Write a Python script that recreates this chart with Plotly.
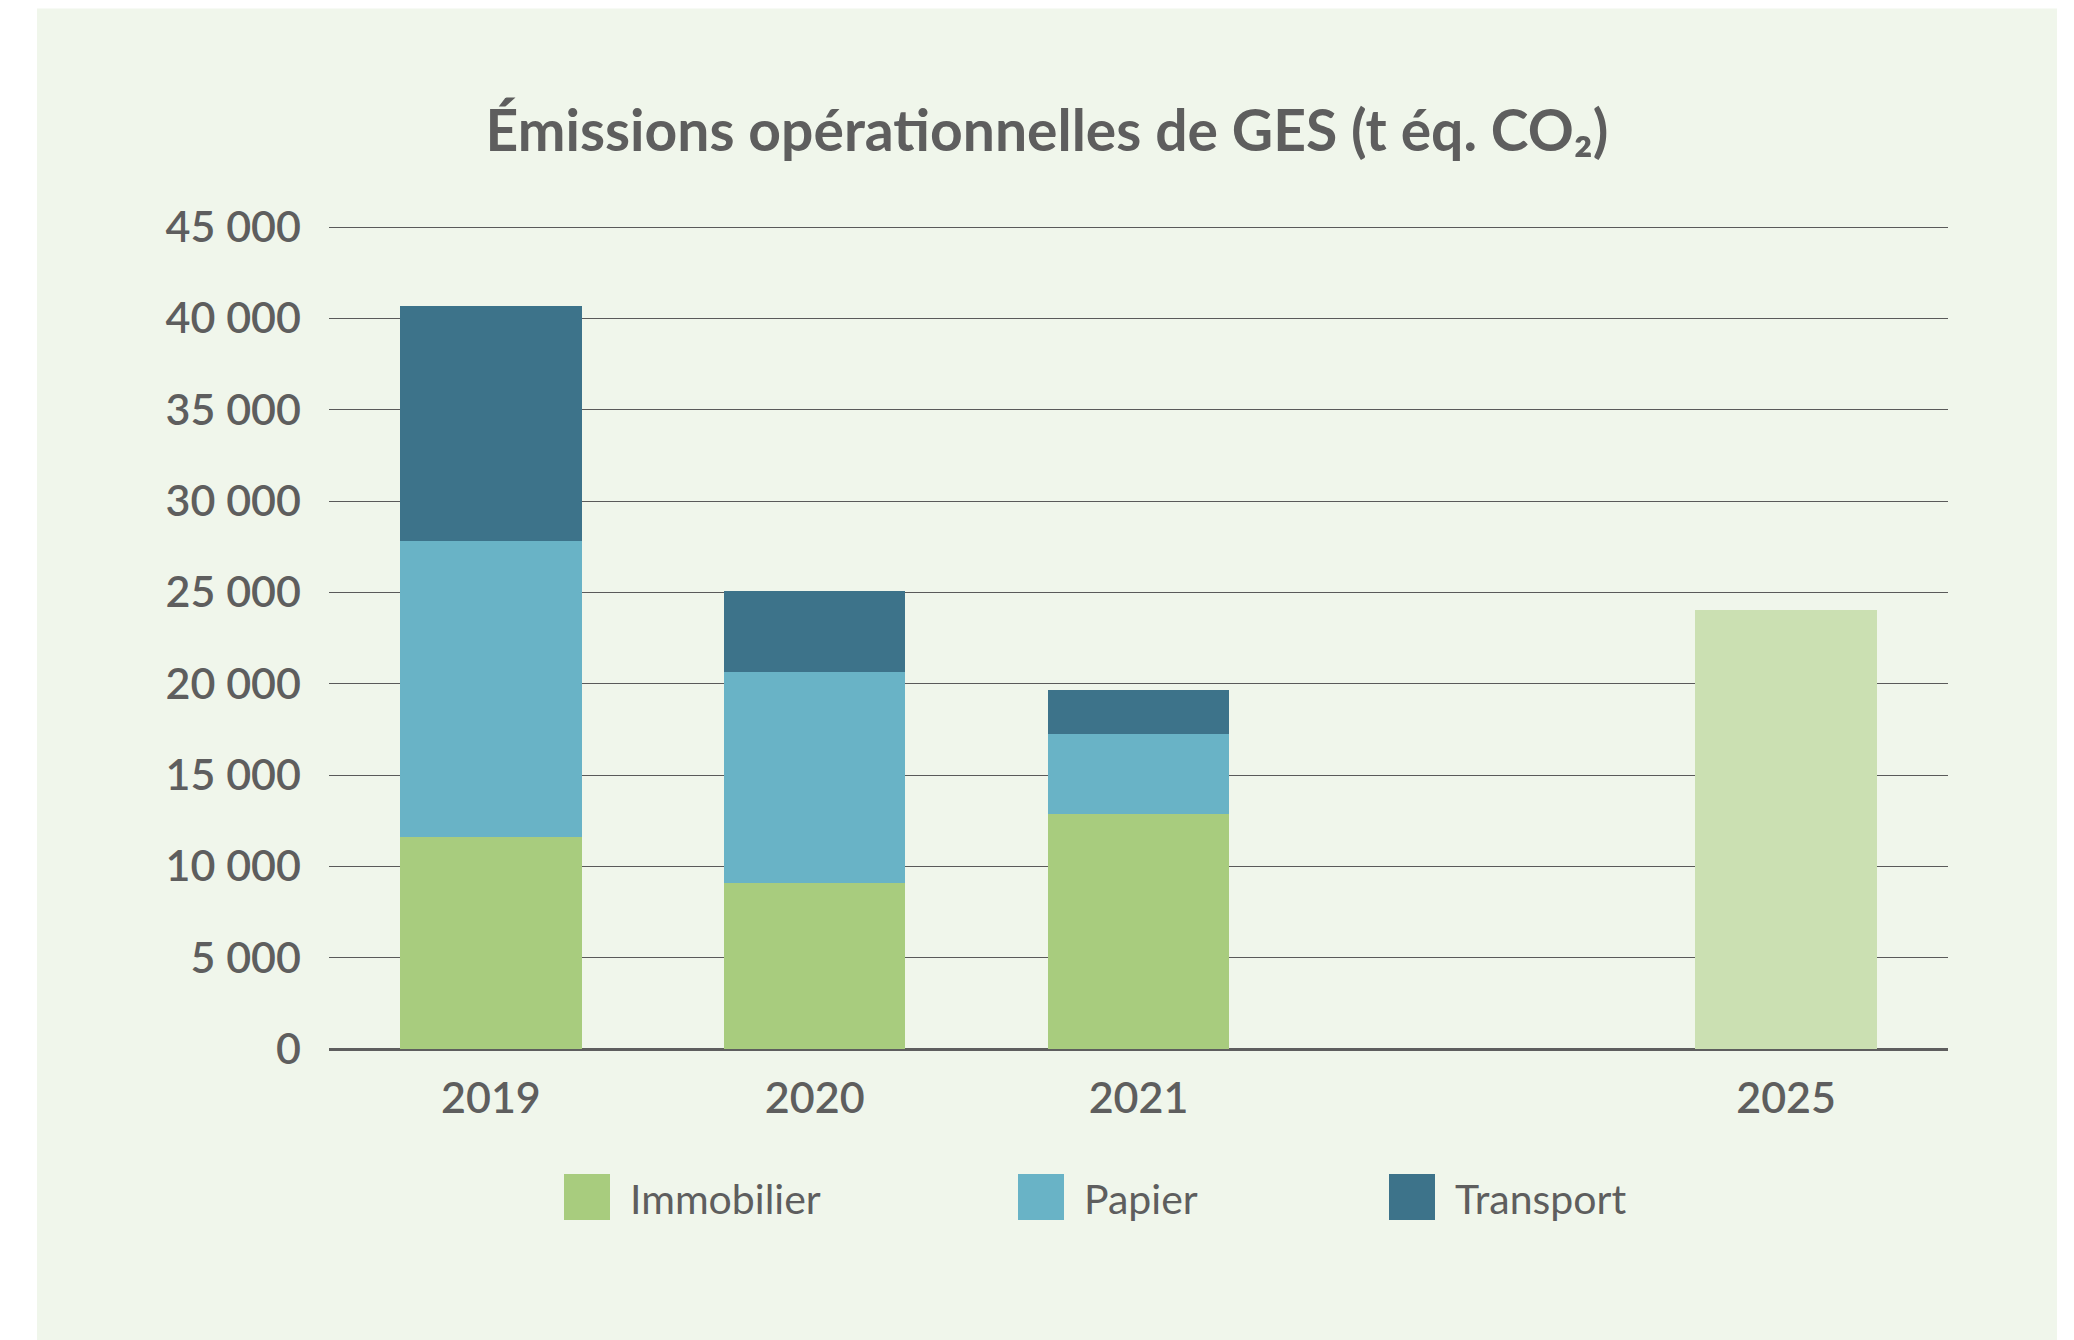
import plotly.graph_objects as go

# categories (blank slot between 2021 and the 2025 target)
years = ["2019", "2020", "2021", " ", "2025"]

# t CO2e
immobilier = [11630, 9100, 12860, None, None]
papier = [16210, 11550, 4390, None, None]
transport = [12860, 4420, 2420, None, None]
cible_2025 = [None, None, None, None, 24050]

series_names = ["Immobilier", "Papier", "Transport"]
colors = ["#A8CC7E", "#69B3C6", "#3D738A"]
target_color = "#CBE0B2"
text_color = "#5E5E5E"
font_family = "Lato, 'Open Sans', sans-serif"

W, H = 2074, 1340
OFF = 8  # the page body adds an 8px margin, so pull everything back by that much
y_max = 45060  # a hair above 45 000 so the top gridline is drawn

# plot area in screen pixels
L, R, B = 329, 1948, 1049
T = B - 821.5 * y_max / 45000


def px_x(x):
    return (x - L) / (R - L)


def px_y(y):
    return (B - y) / (B - T)


fig = go.Figure()
for name, vals, col in zip(series_names, [immobilier, papier, transport], colors):
    fig.add_trace(go.Bar(x=years, y=vals, name=name, marker=dict(color=col, line=dict(width=0))))
fig.add_trace(go.Bar(x=years, y=cible_2025, name="Cible 2025",
                     marker=dict(color=target_color, line=dict(width=0)), showlegend=False))

shapes = [
    # light green panel behind everything
    dict(type="rect", xref="paper", yref="paper", layer="below",
         x0=px_x(37), x1=px_x(2057), y0=px_y(1345), y1=px_y(9),
         fillcolor="#F0F6EB", line=dict(width=0)),
]
annotations = []

# custom legend with big square swatches
legend_x = [564, 1018, 1389]
for name, col, lx in zip(series_names, colors, legend_x):
    shapes.append(dict(type="rect", xref="paper", yref="paper",
                       x0=px_x(lx), x1=px_x(lx + 46), y0=px_y(1220), y1=px_y(1174),
                       fillcolor=col, line=dict(width=0)))
    annotations.append(dict(xref="paper", yref="paper", x=px_x(lx + 64), y=px_y(1198),
                            xanchor="left", yanchor="middle", showarrow=False, text=name,
                            font=dict(family=font_family, size=41, color=text_color)))

fig.update_layout(
    width=W, height=H,
    margin=dict(l=L - OFF, r=W - R + OFF, t=T - OFF, b=H - B + OFF, pad=0),
    paper_bgcolor="white",
    plot_bgcolor="rgba(0,0,0,0)",
    barmode="stack",
    bargap=0.44,
    showlegend=False,
    separators=",\u2005",
    title=dict(text="<b>Émissions opérationnelles de GES (t éq. CO₂)</b>",
               x=(1047 - OFF) / W, xanchor="center", xref="container",
               y=1 - (131 - OFF) / H, yanchor="middle", yref="container",
               font=dict(family=font_family, size=57, color=text_color)),
    xaxis=dict(type="category", categoryorder="array", categoryarray=years,
               range=[-0.5, 4.5], showgrid=False, zeroline=False,
               showline=False, ticks="", ticklabelstandoff=20,
               tickfont=dict(family=font_family, size=43, color=text_color, weight=600)),
    yaxis=dict(range=[0, y_max], dtick=5000, tickformat=",d",
               showgrid=True, gridcolor="#5A5A5A", gridwidth=1,
               zeroline=True, zerolinecolor="#5E5E5E", zerolinewidth=3,
               showline=False, ticks="", ticklabelstandoff=27,
               tickfont=dict(family=font_family, size=43, color=text_color, weight=600)),
    shapes=shapes,
    annotations=annotations,
)

fig.write_html("out.html")
